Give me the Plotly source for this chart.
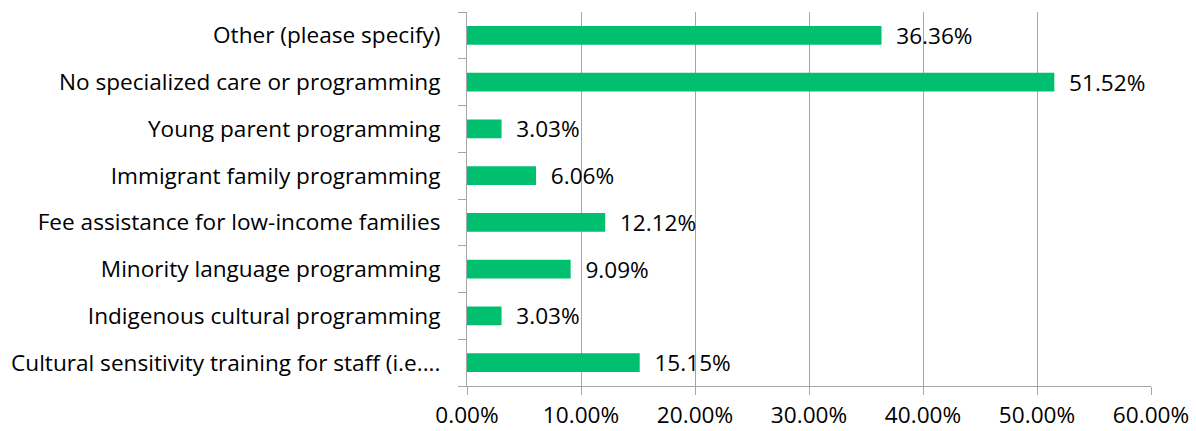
import plotly.graph_objects as go

categories = [
    "Cultural sensitivity training for staff (i.e....",
    "Indigenous cultural programming",
    "Minority language programming",
    "Fee assistance for low-income families",
    "Immigrant family programming",
    "Young parent programming",
    "No specialized care or programming",
    "Other (please specify)",
]
shares = [15.15, 3.03, 9.09, 12.12, 6.06, 3.03, 51.52, 36.36]
x_ticks = [0, 10, 20, 30, 40, 50, 60]

font = dict(family="'Open Sans', sans-serif", size=22.6, color="#000000")

fig = go.Figure(go.Bar(
    x=shares, y=categories, orientation="h",
    marker=dict(color="#00C070", line=dict(width=0)),
    text=[f"  {v:.2f}%" for v in shares], textposition="outside",
    textfont=font, cliponaxis=False, constraintext="none", width=0.4,
))

fig.update_layout(
    width=1196, height=431,
    margin=dict(l=467, r=45, t=12, b=45, autoexpand=False),
    paper_bgcolor="white", plot_bgcolor="white",
    font=font, showlegend=False, bargap=0.6,
)
fig.update_xaxes(
    range=[0, 60], tickvals=x_ticks,
    ticktext=[f"{v:.2f}%" for v in x_ticks],
    showgrid=True, gridcolor="#A6A6A6", gridwidth=1,
    showline=True, linecolor="#A6A6A6", linewidth=1,
    ticks="outside", ticklen=8, tickcolor="#A6A6A6",
    ticklabelstandoff=1, zeroline=False, automargin=False,
)
fig.update_yaxes(
    showgrid=False, showline=True, linecolor="#A6A6A6", linewidth=1,
    ticks="outside", ticklen=8, tickcolor="#A6A6A6", tickson="boundaries",
    ticklabelstandoff=21, automargin=False,
)

fig.write_html("out.html", config={"displayModeBar": False},
               post_script="document.body.style.margin='0';")
